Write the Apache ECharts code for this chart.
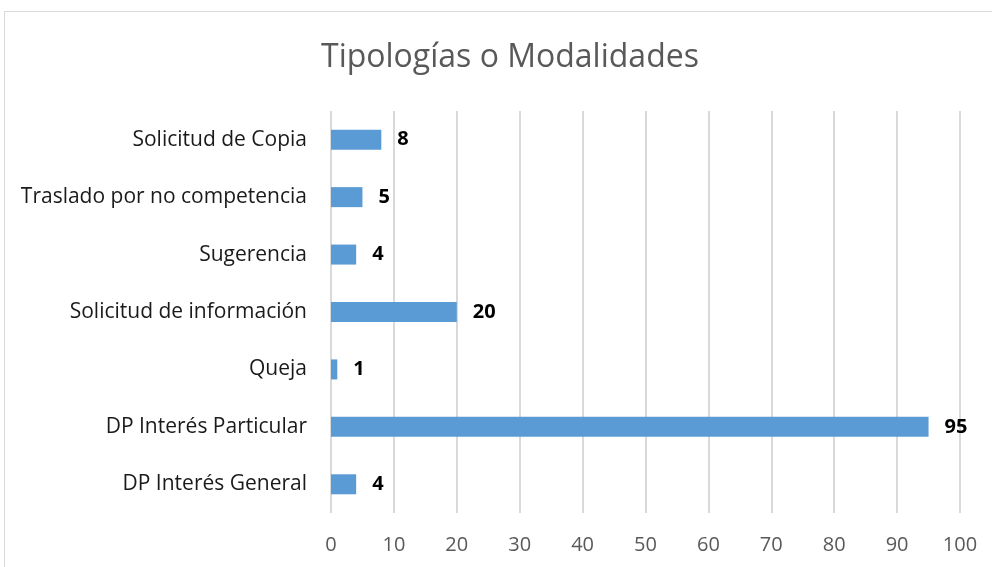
<!DOCTYPE html>
<html>
  <head>
    <meta charset="utf-8" />
    <title>Tipologías o Modalidades</title>
    <script src="https://cdn.jsdelivr.net/npm/echarts@6/dist/echarts.min.js"></script>
    <style>
      html, body { margin: 0; padding: 0; background: #fff; }
    </style>
  </head>
  <body>
    <div id="main" style="width: 992px;height:567px;"></div>
    <script type="text/javascript">
      // categories listed bottom to top (ECharts draws the first one at the bottom)
      var categories = [
        'DP Interés General',
        'DP Interés Particular',
        'Queja',
        'Solicitud de información',
        'Sugerencia',
        'Traslado por no competencia',
        'Solicitud de Copia'
      ];
      var values = [4, 95, 1, 20, 4, 5, 8];
      var xTicks = [0, 10, 20, 30, 40, 50, 60, 70, 80, 90, 100];

      var myChart = echarts.init(document.getElementById('main'));

      var option = {
        animation: false,
        title: {
          text: 'Tipologías o Modalidades',
          left: 316,
          top: 37,
          textStyle: {
            fontFamily: 'Open Sans',
            fontWeight: 'normal',
            fontSize: 32,
            color: '#595959'
          }
        },
        // outer chart border, cropped by the window on the right and bottom
        graphic: [{
          type: 'rect',
          shape: { x: 4.5, y: 11.5, width: 1000, height: 600 },
          style: { fill: 'none', stroke: '#d9d9d9', lineWidth: 1 }
        }],
        grid: {
          left: 331,
          right: 32,
          top: 111,
          bottom: 54,
          containLabel: false
        },
        xAxis: {
          type: 'value',
          min: xTicks[0],
          max: xTicks[xTicks.length - 1],
          interval: 10,
          axisLine: { show: false },
          axisTick: { show: false },
          axisLabel: {
            margin: 22,
            fontFamily: 'Open Sans',
            fontSize: 20,
            color: '#595959'
          },
          splitLine: {
            show: true,
            lineStyle: { color: '#d9d9d9', width: 2 }
          }
        },
        yAxis: {
          type: 'category',
          data: categories,
          axisLine: { show: false },
          axisTick: { show: false },
          axisLabel: {
            margin: 24,
            fontFamily: 'Open Sans',
            fontSize: 21,
            color: '#1a1a1a'
          }
        },
        series: [{
          type: 'bar',
          data: values,
          barWidth: 20,
          itemStyle: { color: '#5b9bd5' },
          label: {
            show: true,
            position: 'right',
            distance: 16,
            fontFamily: 'Open Sans',
            fontWeight: 'bold',
            fontSize: 20,
            color: '#000'
          }
        }]
      };

      myChart.setOption(option);
    </script>
  </body>
</html>
